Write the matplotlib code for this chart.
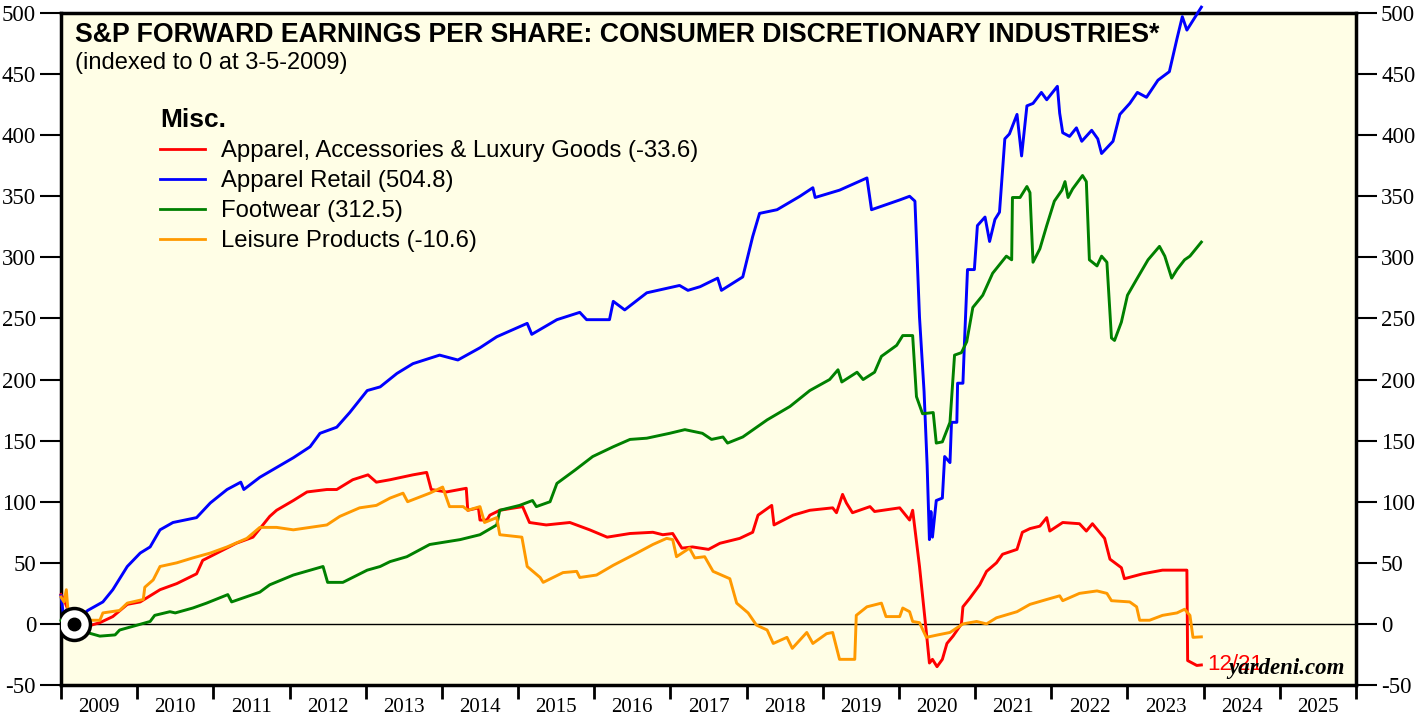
import matplotlib.pyplot as plt
import numpy as np

plt.rcParams["axes.unicode_minus"] = False

# Forward EPS, indexed to 0 at 3-5-2009 (decimal years)
red_t = [2009.0, 2009.04, 2009.1, 2009.17, 2009.34, 2009.51, 2009.68, 2009.87, 2010.04, 2010.30,
         2010.52, 2010.78, 2010.86, 2011.08, 2011.30, 2011.52, 2011.65, 2011.74, 2011.83, 2012.05,
         2012.23, 2012.49, 2012.62, 2012.83, 2013.03, 2013.14, 2013.32, 2013.62, 2013.80, 2013.86,
         2014.06, 2014.32, 2014.34, 2014.48, 2014.50, 2014.59, 2014.63, 2014.76, 2015.06, 2015.15,
         2015.37, 2015.68, 2015.94, 2016.17, 2016.47, 2016.77, 2016.90, 2017.03, 2017.15, 2017.29,
         2017.50, 2017.65, 2017.91, 2018.08, 2018.15, 2018.33, 2018.36, 2018.61, 2018.83, 2019.13,
         2019.18, 2019.26, 2019.31, 2019.39, 2019.62, 2019.68, 2020.01, 2020.14, 2020.18, 2020.27,
         2020.36, 2020.40, 2020.44, 2020.50, 2020.57, 2020.63, 2020.71, 2020.82, 2020.84, 2020.93,
         2021.06, 2021.15, 2021.28, 2021.36, 2021.55, 2021.62, 2021.72, 2021.85, 2021.94, 2021.98,
         2022.15, 2022.37, 2022.46, 2022.54, 2022.70, 2022.77, 2022.92, 2022.96, 2023.20, 2023.46,
         2023.78, 2023.79, 2023.91, 2023.97]
red_v = [24, 20, 10, 0, -2, 1, 6, 16, 18, 28,
         33, 41, 52, 59, 66, 71, 81, 88, 93, 101,
         108, 110, 110, 118, 122, 116, 118, 122, 124, 110,
         108, 111, 93, 95, 85, 85, 89, 93, 96, 83,
         81, 83, 77, 71, 74, 75, 73, 74, 62, 63,
         61, 66, 70, 75, 89, 97, 81, 89, 93, 95,
         91, 106, 99, 91, 96, 92, 95, 85, 93, 47,
         -7, -32, -29, -35, -29, -16, -10, 0, 14, 21,
         32, 43, 50, 57, 61, 75, 78, 80, 87, 76,
         83, 82, 76, 82, 70, 53, 46, 37, 41, 44,
         44, -30, -34, -33.6]

blue_t = [2009.0, 2009.03, 2009.08, 2009.17, 2009.35, 2009.55, 2009.68, 2009.87, 2010.04, 2010.17,
          2010.30, 2010.47, 2010.78, 2010.96, 2011.18, 2011.36, 2011.40, 2011.61, 2011.83, 2012.05,
          2012.27, 2012.40, 2012.62, 2012.79, 2013.02, 2013.19, 2013.41, 2013.62, 2013.97, 2014.21,
          2014.50, 2014.72, 2015.12, 2015.18, 2015.51, 2015.81, 2015.90, 2016.20, 2016.25, 2016.40,
          2016.69, 2017.12, 2017.23, 2017.39, 2017.52, 2017.62, 2017.67, 2017.95, 2018.08, 2018.17,
          2018.40, 2018.70, 2018.87, 2018.90, 2019.22, 2019.58, 2019.64, 2020.01, 2020.14, 2020.21,
          2020.27, 2020.33, 2020.37, 2020.40, 2020.42, 2020.44, 2020.49, 2020.57, 2020.60, 2020.67,
          2020.69, 2020.76, 2020.77, 2020.84, 2020.86, 2020.90, 2020.99, 2021.03, 2021.13, 2021.19,
          2021.26, 2021.32, 2021.39, 2021.45, 2021.55, 2021.61, 2021.68, 2021.76, 2021.87, 2021.94,
          2022.08, 2022.11, 2022.15, 2022.24, 2022.33, 2022.40, 2022.53, 2022.61, 2022.66, 2022.81,
          2022.90, 2023.03, 2023.13, 2023.25, 2023.40, 2023.55, 2023.65, 2023.72, 2023.78, 2023.97]
blue_v = [23, 8, 12, 0, 11, 18, 28, 47, 58, 63,
          77, 83, 87, 99, 110, 116, 110, 120, 128, 136,
          145, 156, 161, 173, 191, 194, 205, 213, 220, 216,
          226, 235, 246, 237, 249, 255, 249, 249, 264, 257,
          271, 277, 273, 276, 280, 283, 273, 284, 317, 336,
          339, 350, 357, 349, 355, 365, 339, 347, 350, 346,
          251, 190, 130, 69, 92, 71, 101, 103, 137, 132,
          165, 165, 197, 197, 230, 290, 290, 326, 333, 313,
          331, 337, 397, 401, 417, 383, 424, 426, 435, 429,
          440, 418, 402, 399, 406, 395, 404, 397, 385, 395,
          417, 426, 435, 431, 445, 452, 479, 497, 486, 504.8]

green_t = [2009.0, 2009.17, 2009.34, 2009.51, 2009.71, 2009.77, 2010.0, 2010.17, 2010.23, 2010.43,
           2010.5, 2010.73, 2010.91, 2011.19, 2011.24, 2011.61, 2011.74, 2012.05, 2012.44, 2012.50,
           2012.70, 2013.02, 2013.19, 2013.32, 2013.54, 2013.84, 2014.24, 2014.50, 2014.72, 2014.76,
           2015.02, 2015.19, 2015.24, 2015.42, 2015.51, 2015.75, 2015.98, 2016.25, 2016.47, 2016.69,
           2016.99, 2017.19, 2017.42, 2017.54, 2017.69, 2017.75, 2017.95, 2018.27, 2018.57, 2018.83,
           2019.09, 2019.20, 2019.25, 2019.45, 2019.53, 2019.68, 2019.77, 2019.97, 2020.05, 2020.18,
           2020.23, 2020.31, 2020.45, 2020.49, 2020.57, 2020.67, 2020.73, 2020.82, 2020.89, 2020.97,
           2021.10, 2021.23, 2021.41, 2021.48, 2021.49, 2021.59, 2021.68, 2021.72, 2021.76, 2021.85,
           2021.94, 2022.04, 2022.14, 2022.18, 2022.22, 2022.28, 2022.41, 2022.46, 2022.50, 2022.60,
           2022.66, 2022.73, 2022.79, 2022.83, 2022.92, 2023.00, 2023.12, 2023.27, 2023.42, 2023.49,
           2023.58, 2023.65, 2023.75, 2023.82, 2023.97]
green_v = [3, 0, -7, -10, -9, -5, -1, 2, 7, 10,
           9, 13, 17, 24, 18, 26, 32, 40, 47, 34,
           34, 44, 47, 51, 55, 65, 69, 73, 81, 93,
           97, 101, 96, 100, 115, 126, 137, 145, 151, 152,
           156, 159, 156, 151, 153, 148, 153, 167, 178, 191,
           200, 208, 198, 206, 200, 206, 219, 228, 236, 236,
           186, 172, 173, 148, 149, 165, 220, 222, 231, 259,
           269, 287, 301, 298, 349, 349, 358, 353, 296, 307,
           326, 346, 355, 362, 349, 356, 367, 362, 298, 293,
           301, 296, 234, 232, 247, 269, 282, 298, 309, 301,
           283, 290, 298, 301, 312.5]

orange_t = [2009.0, 2009.04, 2009.07, 2009.09, 2009.17, 2009.34, 2009.51, 2009.55, 2009.77, 2009.87,
            2010.08, 2010.10, 2010.21, 2010.30, 2010.52, 2010.73, 2010.96, 2011.18, 2011.44, 2011.61,
            2011.83, 2012.05, 2012.27, 2012.49, 2012.66, 2012.92, 2013.14, 2013.32, 2013.49, 2013.55,
            2013.84, 2014.01, 2014.10, 2014.28, 2014.34, 2014.50, 2014.56, 2014.72, 2014.76, 2015.05,
            2015.12, 2015.29, 2015.33, 2015.59, 2015.77, 2015.81, 2016.03, 2016.25, 2016.56, 2016.77,
            2016.95, 2017.03, 2017.08, 2017.25, 2017.32, 2017.45, 2017.56, 2017.78, 2017.87, 2018.02,
            2018.13, 2018.27, 2018.35, 2018.53, 2018.60, 2018.79, 2018.87, 2019.05, 2019.13, 2019.22,
            2019.42, 2019.44, 2019.58, 2019.77, 2019.83, 2020.01, 2020.05, 2020.14, 2020.18, 2020.27,
            2020.36, 2020.51, 2020.67, 2020.84, 2021.02, 2021.15, 2021.28, 2021.55, 2021.72, 2021.94,
            2022.11, 2022.15, 2022.37, 2022.60, 2022.73, 2022.79, 2023.03, 2023.12, 2023.16, 2023.29,
            2023.46, 2023.65, 2023.75, 2023.82, 2023.86, 2023.97]
orange_v = [22, 18, 28, 12, 3, 3, 3, 9, 11, 17,
            20, 30, 36, 47, 50, 54, 58, 63, 70, 79,
            79, 77, 79, 81, 88, 95, 97, 103, 107, 100,
            107, 112, 96, 96, 93, 96, 83, 87, 73, 71,
            47, 38, 34, 42, 43, 38, 40, 48, 58, 65,
            70, 69, 55, 62, 54, 55, 43, 37, 17, 9,
            -1, -5, -16, -11, -20, -7, -16, -8, -7, -29,
            -29, 7, 14, 17, 6, 6, 13, 10, 2, 1,
            -11, -9, -7, 0, 2, 0, 5, 10, 16, 20,
            23, 19, 25, 27, 25, 19, 18, 14, 3, 3,
            7, 9, 12, 7, -11, -10.6]

labels = ["Apparel, Accessories & Luxury Goods (-33.6)", "Apparel Retail (504.8)",
          "Footwear (312.5)", "Leisure Products (-10.6)"]
colors = ["#FF0000", "#0000FF", "#008000", "#FF9900"]
years = list(range(2009, 2026))

fig = plt.figure(figsize=(14.25, 7.17), dpi=100)
ax = fig.add_axes([61 / 1425, 1 - 685 / 717, 1295 / 1425, 672 / 717])
ax.set_facecolor("#FFFEE6")

series = [(red_t, red_v), (blue_t, blue_v), (green_t, green_v), (orange_t, orange_v)]
for (t, v), lab, c in zip(series, labels, colors):
    ax.plot(t, v, color=c, lw=2.1, label=lab, clip_on=False, zorder=3)

ax.axhline(0, color="black", lw=1, zorder=2)

# base date marker
ax.plot([2009.175], [0], "o", ms=23, mfc="white", mec="black", mew=2.5, zorder=5)
ax.plot([2009.175], [0], "o", ms=9, color="black", zorder=6)

ax.set_xlim(2009, 2026)
ax.set_ylim(-50, 500)

serif = "Liberation Serif"
ax.set_yticks(np.arange(-50, 501, 50))
ax.tick_params(axis="y", which="both", direction="out", length=15, width=1.5,
               left=True, right=True, labelleft=True, labelright=True, labelsize=16.5, pad=3)
for lab in ax.get_yticklabels():
    lab.set_fontfamily(serif)

ax.set_xticks(np.arange(2009, 2027))
ax.set_xticks(np.array(years) + 0.5, minor=True)
ax.set_xticklabels([], minor=False)
ax.set_xticklabels([str(y) for y in years], minor=True, fontfamily=serif, fontsize=15)
ax.tick_params(axis="x", which="major", direction="out", length=10, width=2)
ax.tick_params(axis="x", which="minor", length=0, pad=9)

for s in ax.spines.values():
    s.set_linewidth(2.5)

ax.text(0.0108, 0.967, "S&P FORWARD EARNINGS PER SHARE: CONSUMER DISCRETIONARY INDUSTRIES*",
        transform=ax.transAxes, fontsize=19.2, fontweight="bold", fontfamily="Liberation Sans",
        ha="left", va="center")
ax.text(0.0108, 0.926, "(indexed to 0 at 3-5-2009)", transform=ax.transAxes,
        fontsize=17, fontfamily="Liberation Sans", ha="left", va="center")

leg = ax.legend(loc="upper left", bbox_to_anchor=(0.0764, 0.858), frameon=False,
                title="Misc.", title_fontproperties={"weight": "bold", "size": 19, "family": "Liberation Sans"},
                prop={"family": "Liberation Sans", "size": 17.2}, handlelength=1.9,
                handletextpad=0.65, labelspacing=0.33, alignment="left",
                borderaxespad=0, borderpad=0)
for h in leg.get_lines():
    h.set_linewidth(2)

ax.text(2024.05, -33.6, "12/21", color="#FF0000", fontsize=16, fontfamily="Liberation Sans",
        ha="left", va="center", zorder=4)
ax.text(0.9915, 0.024, "yardeni.com", transform=ax.transAxes, fontsize=16.5, fontweight="bold",
        fontstyle="italic", fontfamily=serif, ha="right", va="center", zorder=7)

fig.savefig("out.png", dpi=100)
